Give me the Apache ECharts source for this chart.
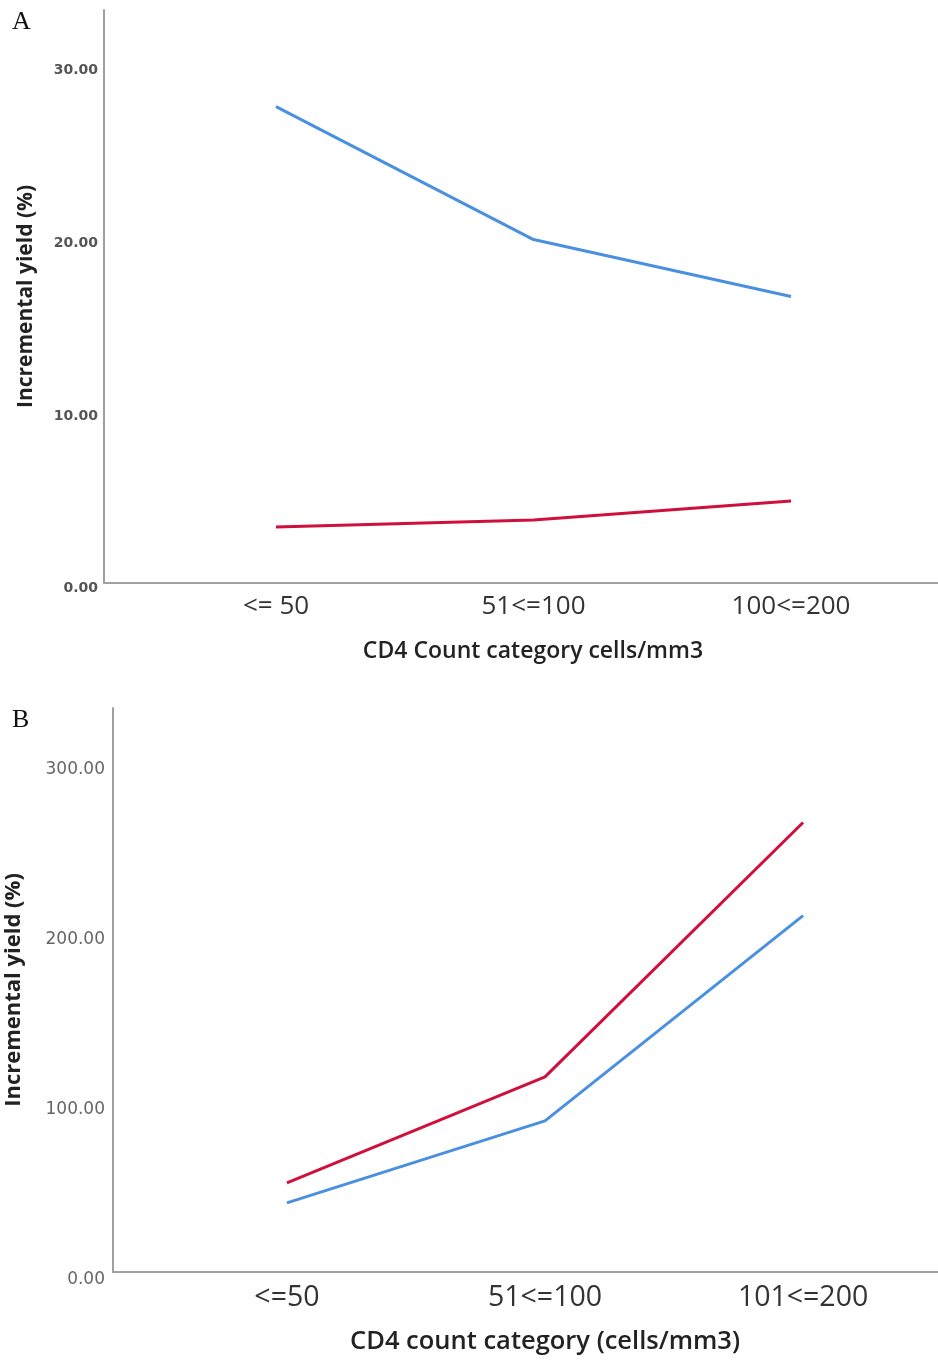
<!DOCTYPE html>
<html>
<head>
<meta charset="utf-8">
<script src="https://cdn.jsdelivr.net/npm/echarts@6/dist/echarts.min.js"></script>
<style>
  html, body { margin: 0; padding: 0; background: #fff; }
  #chart { width: 938px; height: 1362px; }
</style>
</head>
<body>
<div id="chart"></div>
<script>
// Panel A: incremental yield by CD4 count category
const categoriesA = ['<= 50', '51<=100', '100<=200'];
const blueA = [27.6, 19.9, 16.6];
const redA = [3.25, 3.65, 4.75];
const yTicksA = [0, 10, 20, 30];

// Panel B: incremental yield by CD4 count category
const categoriesB = ['<=50', '51<=100', '101<=200'];
const redB = [52.4, 114.9, 264.6];
const blueB = [40.7, 89.0, 209.8];
const yTicksB = [0, 100, 200, 300];

const BLUE = '#4a90e0';
const RED = '#d0103c';
const AXIS = '#a0a0a0';

const toPoints = vals => vals.map((v, i) => [i, v]);

function xAxis(gridIndex, cats, min, max, name, o) {
  return {
    type: 'value', gridIndex, min, max,
    name, nameLocation: 'middle', nameGap: o.nameGap,
    nameTextStyle: { fontFamily: 'Open Sans', fontSize: o.nameSize, fontWeight: 600, color: '#222' },
    axisLine: { show: true, onZero: false, lineStyle: { color: AXIS, width: 2 } },
    axisTick: { show: false },
    splitLine: { show: false },
    axisLabel: {
      customValues: cats.map((c, i) => i),
      formatter: v => cats[Math.round(v)],
      fontFamily: 'Open Sans', fontSize: o.labelSize, color: '#333', margin: o.margin
    }
  };
}

function yAxis(gridIndex, ticks, max, labelStyle, nameSize, nameGap) {
  return {
    type: 'value', gridIndex, min: 0, max,
    name: 'Incremental yield (%)', nameLocation: 'middle', nameGap,
    nameTextStyle: { fontFamily: 'Open Sans', fontSize: nameSize, fontWeight: 'bold', color: '#222' },
    axisLine: { show: true, onZero: false, lineStyle: { color: AXIS, width: 2 } },
    axisTick: { show: false },
    splitLine: { show: false },
    axisLabel: Object.assign({
      customValues: ticks,
      formatter: v => v.toFixed(2),
      verticalAlign: 'top'
    }, labelStyle)
  };
}

const option = {
  backgroundColor: '#fff',
  animation: false,
  grid: [
    { left: 104, right: -24, top: 10, height: 573, outerBoundsMode: 'none' },
    { left: 113, right: -39, top: 708, height: 564, outerBoundsMode: 'none' }
  ],
  xAxis: [
    xAxis(0, categoriesA, -0.668, 2.664, 'CD4 Count category cells/mm3',
      { nameGap: 57, nameSize: 23, labelSize: 26, margin: 11 }),
    xAxis(1, categoriesB, -0.674, 2.674, 'CD4 count category (cells/mm3)',
      { nameGap: 57, nameSize: 25.5, labelSize: 28.5, margin: 11 })
  ],
  yAxis: [
    yAxis(0, yTicksA, 33.2, { fontFamily: 'DejaVu Sans', fontSize: 14, fontWeight: 'bold', color: '#555', margin: 6, lineHeight: 11 }, 21, 67),
    yAxis(1, yTicksB, 332, { fontFamily: 'DejaVu Sans', fontSize: 17, color: '#666', margin: 8, lineHeight: 15 }, 22, 88)
  ],
  series: [
    { type: 'line', xAxisIndex: 0, yAxisIndex: 0, data: toPoints(blueA), symbol: 'none',
      lineStyle: { color: BLUE, width: 3 } },
    { type: 'line', xAxisIndex: 0, yAxisIndex: 0, data: toPoints(redA), symbol: 'none',
      lineStyle: { color: RED, width: 3 } },
    { type: 'line', xAxisIndex: 1, yAxisIndex: 1, data: toPoints(redB), symbol: 'none',
      lineStyle: { color: RED, width: 3 } },
    { type: 'line', xAxisIndex: 1, yAxisIndex: 1, data: toPoints(blueB), symbol: 'none',
      lineStyle: { color: BLUE, width: 3 } }
  ],
  graphic: [
    { type: 'text', left: 12, top: 9, style: { text: 'A', font: '26px "Liberation Serif"', fill: '#111' } },
    { type: 'text', left: 12, top: 707, style: { text: 'B', font: '26px "Liberation Serif"', fill: '#111' } }
  ]
};

const chart = echarts.init(document.getElementById('chart'), null, { renderer: 'canvas' });
chart.setOption(option);
</script>
</body>
</html>
